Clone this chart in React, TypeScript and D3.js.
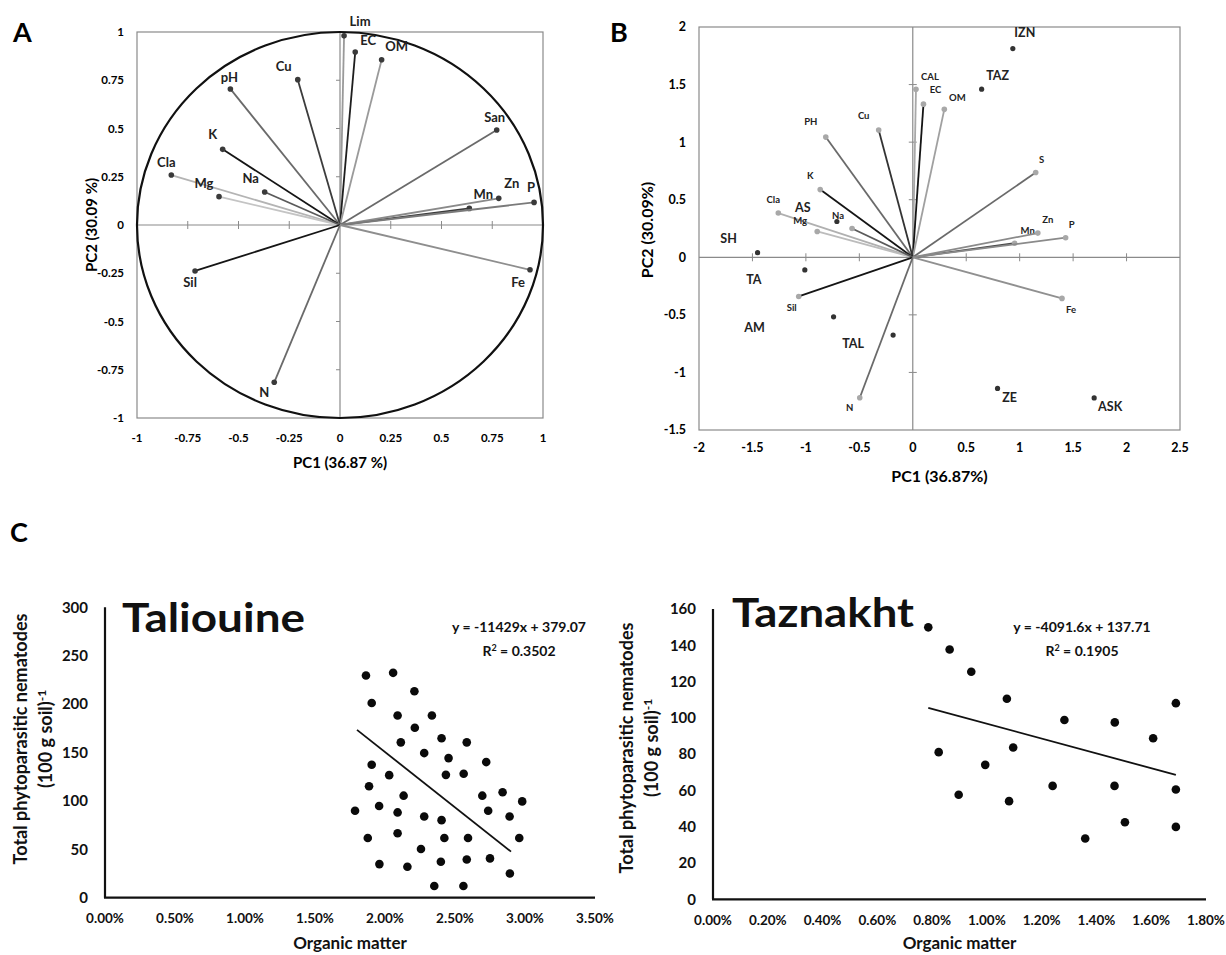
import React from 'react'
import * as d3 from 'd3'

const FONT = 'Lato, "Open Sans", sans-serif'

// ---- panel A : correlation circle (variables) ----
const varsA = ['Lim', 'EC', 'OM', 'Cu', 'pH', 'K', 'Cla', 'Mg', 'Na', 'San', 'Mn', 'Zn', 'P', 'Sil', 'N', 'Fe']
const pc1A = [0.02, 0.075, 0.205, -0.208, -0.54, -0.578, -0.831, -0.596, -0.371, 0.772, 0.637, 0.782, 0.956, -0.714, -0.324, 0.936]
const pc2A = [0.98, 0.896, 0.856, 0.753, 0.705, 0.392, 0.259, 0.147, 0.171, 0.492, 0.086, 0.138, 0.117, -0.238, -0.815, -0.232]
const ticksA = [-1, -0.75, -0.5, -0.25, 0, 0.25, 0.5, 0.75, 1]

// ---- panel B : biplot (variables + sites) ----
const varsB = ['CAL', 'EC', 'OM', 'PH', 'Cu', 'K', 'Cla', 'Mg', 'Na', 'S', 'Mn', 'Zn', 'P', 'Sil', 'N', 'Fe']
const pc1B = [0.03, 0.1, 0.295, -0.814, -0.319, -0.866, -1.258, -0.894, -0.568, 1.15, 0.953, 1.17, 1.43, -1.067, -0.496, 1.396]
const pc2B = [1.46, 1.33, 1.285, 1.044, 1.105, 0.588, 0.384, 0.224, 0.25, 0.736, 0.122, 0.21, 0.17, -0.34, -1.22, -0.357]
const sites = ['IZN', 'TAZ', 'SH', 'TA', 'AM', 'TAL', 'ZE', 'ASK', 'AS']
const siteX = [0.936, 0.644, -1.452, -1.01, -0.741, -0.184, 0.793, 1.697, -0.71]
const siteY = [1.813, 1.46, 0.04, -0.11, -0.517, -0.676, -1.139, -1.221, 0.311]
const ticksBx = [-2, -1.5, -1, -0.5, 0, 0.5, 1, 1.5, 2, 2.5]
const ticksBy = [-1.5, -1, -0.5, 0, 0.5, 1, 1.5, 2]

// ---- panel C : nematodes vs organic matter ----
const talOM = [0.01864, 0.02058, 0.01905, 0.0221, 0.0209, 0.02335, 0.02213, 0.02113, 0.02404, 0.02584, 0.0228, 0.02454, 0.01905, 0.02723, 0.0203, 0.02435, 0.02562, 0.01886, 0.02133, 0.02695, 0.0284, 0.0298, 0.01786, 0.01958, 0.0209, 0.02737, 0.0228, 0.02404, 0.0289, 0.01877, 0.0209, 0.02424, 0.02593, 0.02959, 0.02257, 0.0196, 0.0216, 0.02399, 0.02584, 0.0275, 0.02892, 0.02352, 0.0256]
const talNem = [229.5, 232.3, 201.1, 213.2, 188.3, 188.3, 175.5, 160.5, 164.7, 160.5, 149.4, 144.2, 137.3, 140.1, 126.6, 126.9, 128, 115.1, 105.4, 105.4, 108.9, 99.5, 89.8, 94.7, 88.1, 89.8, 83.9, 80.1, 83.9, 61.7, 66.6, 61.7, 61.7, 61.7, 50.3, 34.7, 31.9, 37.1, 39.5, 40.6, 25, 12.1, 12.1]
const talFit = { slope: -11429, intercept: 379.07, from: 0.018, to: 0.029, r2: '0.3502' }

const tazOM = [0.00786, 0.00864, 0.00943, 0.01073, 0.00824, 0.01096, 0.00994, 0.00897, 0.01081, 0.01283, 0.0124, 0.01467, 0.01466, 0.01504, 0.01359, 0.01607, 0.0169, 0.0169, 0.0169]
const tazNem = [149.9, 137.7, 125.4, 110.5, 81.1, 83.7, 74.1, 57.6, 54.1, 98.8, 62.5, 97.5, 62.5, 42.5, 33.5, 88.8, 108.1, 60.5, 39.9]
const tazFit = { slope: -4091.6, intercept: 137.71, from: 0.00786, to: 0.0169, r2: '0.1905' }

// line shades and label nudges (px) for the loadings
const shadeA: Record<string, string> = {
  Lim: '#9a9a9a', EC: '#1e1e1e', OM: '#9a9a9a', Cu: '#3c3c3c', pH: '#6a6a6a', K: '#151515', Cla: '#b4b4b4', Mg: '#c4c4c4',
  Na: '#5a5a5a', San: '#6a6a6a', Mn: '#3a3a3a', Zn: '#8a8a8a', P: '#7a7a7a', Sil: '#151515', N: '#6a6a6a', Fe: '#8e8e8e'
}
const nudgeA: Record<string, [number, number]> = {
  Lim: [16, -14], EC: [13, -12], OM: [15, -13], Cu: [-14, -13], pH: [-1, -11], K: [-10, -15], Cla: [-5, -13], Mg: [-15, -13],
  Na: [-14, -14], San: [-2, -13], Mn: [14, -14], Zn: [13, -15], P: [-3, -15], Sil: [-5, 12], N: [-10, 10], Fe: [-12, 13]
}
const shadeB: Record<string, string> = {
  CAL: '#a8a8a8', EC: '#151515', OM: '#a0a0a0', PH: '#6a6a6a', Cu: '#333', K: '#151515', Cla: '#b0b0b0', Mg: '#bcbcbc',
  Na: '#5a5a5a', S: '#6a6a6a', Mn: '#4a4a4a', Zn: '#8a8a8a', P: '#8a8a8a', Sil: '#151515', N: '#6a6a6a', Fe: '#909090'
}
const nudgeB: Record<string, [number, number]> = {
  CAL: [14, -13], EC: [12, -14], OM: [13, -12], PH: [-15, -15], Cu: [-15, -14], K: [-10, -14], Cla: [-5, -13], Mg: [-17, -11],
  Na: [-14, -13], S: [6, -13], Mn: [13, -13], Zn: [10, -13], P: [6, -13], Sil: [-7, 11], N: [-10, 10], Fe: [9, 11]
}
const nudgeSite: Record<string, [number, number]> = {
  IZN: [12, -16], TAZ: [16, -14], SH: [-29, -14], TA: [-51, 10], AM: [-79, 11], TAL: [-40, 9], ZE: [12, 9], ASK: [16, 9], AS: [-34, -14]
}

const fmt = (v: number) => String(+v.toFixed(2))

function PanelA() {
  const x = d3.scaleLinear().domain([-1, 1]).range([137, 543])
  const y = d3.scaleLinear().domain([-1, 1]).range([418, 32])
  return (
    <g fontFamily={FONT} fontWeight="bold">
      <text x={13} y={42} fontSize={27}>A</text>
      <rect x={x(-1)} y={y(1)} width={x(1) - x(-1)} height={y(-1) - y(1)} fill="none" stroke="#8a8a8a" strokeWidth={1.2} />
      <line x1={x(-1)} x2={x(1)} y1={y(0)} y2={y(0)} stroke="#8a8a8a" strokeWidth={1.2} />
      <line x1={x(0)} x2={x(0)} y1={y(1)} y2={y(-1)} stroke="#8a8a8a" strokeWidth={1.2} />
      {ticksA.filter(t => Math.abs(t) < 1 && t !== 0).map(t => (
        <g key={t}>
          <line x1={x(t)} x2={x(t)} y1={y(0) - 4} y2={y(0) + 4} stroke="#8a8a8a" />
          <line x1={x(0) - 4} x2={x(0)} y1={y(t)} y2={y(t)} stroke="#8a8a8a" />
        </g>
      ))}
      <ellipse cx={x(0)} cy={y(0)} rx={x(1) - x(0)} ry={y(0) - y(1)} fill="none" stroke="#111" strokeWidth={2.2} />
      {varsA.map((v, i) => (
        <g key={v}>
          <line x1={x(0)} y1={y(0)} x2={x(pc1A[i])} y2={y(pc2A[i])} stroke={shadeA[v]} strokeWidth={1.8} />
          <circle cx={x(pc1A[i])} cy={y(pc2A[i])} r={2.8} fill="#3a3a3a" />
          <text x={x(pc1A[i]) + nudgeA[v][0]} y={y(pc2A[i]) + nudgeA[v][1]} dy="0.35em" textAnchor="middle" fontSize={13} fill="#222">{v}</text>
        </g>
      ))}
      {ticksA.map(t => (
        <text key={'y' + t} x={124} y={y(t)} dy="0.35em" textAnchor="end" fontSize={11.5}>{fmt(t)}</text>
      ))}
      {ticksA.map(t => (
        <text key={'x' + t} x={x(t)} y={438} dy="0.35em" textAnchor="middle" fontSize={11.5}>{fmt(t)}</text>
      ))}
      <text x={x(0)} y={463} dy="0.35em" textAnchor="middle" fontSize={15}>PC1 (36.87 %)</text>
      <text transform={`translate(92,${y(0)}) rotate(-90)`} dy="0.35em" textAnchor="middle" fontSize={15}>PC2 (30.09 %)</text>
    </g>
  )
}

function PanelB() {
  const x = d3.scaleLinear().domain([-2, 2.5]).range([699, 1180])
  const y = d3.scaleLinear().domain([-1.5, 2]).range([430, 27])
  return (
    <g fontFamily={FONT} fontWeight="bold">
      <text x={610} y={42} fontSize={27}>B</text>
      <rect x={x(-2)} y={y(2)} width={x(2.5) - x(-2)} height={y(-1.5) - y(2)} fill="none" stroke="#8a8a8a" strokeWidth={1.2} />
      <line x1={x(-2)} x2={x(2.5)} y1={y(0)} y2={y(0)} stroke="#8a8a8a" strokeWidth={1.2} />
      <line x1={x(0)} x2={x(0)} y1={y(2)} y2={y(-1.5)} stroke="#8a8a8a" strokeWidth={1.2} />
      {ticksBx.filter(t => t !== 0 && t > -2 && t < 2.5).map(t => (
        <line key={'tx' + t} x1={x(t)} x2={x(t)} y1={y(0) - 4} y2={y(0) + 4} stroke="#8a8a8a" />
      ))}
      {ticksBy.filter(t => t !== 0 && t > -1.5 && t < 2).map(t => (
        <line key={'ty' + t} x1={x(0) - 4} x2={x(0) + 4} y1={y(t)} y2={y(t)} stroke="#8a8a8a" />
      ))}
      {varsB.map((v, i) => (
        <g key={v}>
          <line x1={x(0)} y1={y(0)} x2={x(pc1B[i])} y2={y(pc2B[i])} stroke={shadeB[v]} strokeWidth={1.8} />
          <circle cx={x(pc1B[i])} cy={y(pc2B[i])} r={2.8} fill="#a8a8a8" />
          <text x={x(pc1B[i]) + nudgeB[v][0]} y={y(pc2B[i]) + nudgeB[v][1]} dy="0.35em" textAnchor="middle" fontSize={9.5} fill="#222">{v}</text>
        </g>
      ))}
      {sites.map((s, i) => (
        <g key={s}>
          <circle cx={x(siteX[i])} cy={y(siteY[i])} r={2.6} fill="#333" />
          <text x={x(siteX[i]) + nudgeSite[s][0]} y={y(siteY[i]) + nudgeSite[s][1]} dy="0.35em" textAnchor="middle" fontSize={12.5} fill="#222">{s}</text>
        </g>
      ))}
      {ticksBy.map(t => (
        <text key={'y' + t} x={686} y={y(t)} dy="0.35em" textAnchor="end" fontSize={12.5}>{fmt(t)}</text>
      ))}
      {ticksBx.map(t => (
        <text key={'x' + t} x={x(t)} y={448} dy="0.35em" textAnchor="middle" fontSize={12.5}>{fmt(t)}</text>
      ))}
      <text x={(x(-2) + x(2.5)) / 2} y={476} dy="0.35em" textAnchor="middle" fontSize={16}>PC1 (36.87%)</text>
      <text transform={`translate(647,230) rotate(-90)`} dy="0.35em" textAnchor="middle" fontSize={16}>PC2 (30.09%)</text>
    </g>
  )
}

type ScatterProps = {
  title: string; om: number[]; nem: number[]; fit: { slope: number; intercept: number; from: number; to: number; r2: string }
  xMax: number; xStep: number; yMax: number; yStep: number
  xr: [number, number]; yr: [number, number]
  titleX: number; titleY: number; titleW: number; eqX: number; yTitleX: number; yTitleY: number; eqText: string
}

function Scatter(p: ScatterProps) {
  const x = d3.scaleLinear().domain([0, p.xMax]).range(p.xr)
  const y = d3.scaleLinear().domain([0, p.yMax]).range(p.yr)
  const xt = d3.range(0, p.xMax + 1e-9, p.xStep)
  const yt = d3.range(0, p.yMax + 1e-9, p.yStep)
  const pct = d3.format('.2%')
  const trend = d3.line<number>().x(d => x(d)).y(d => y(p.fit.slope * d + p.fit.intercept))
  return (
    <g fontFamily={FONT} fontWeight="bold" fill="#111">
      <line x1={p.xr[0]} x2={p.xr[0]} y1={p.yr[1]} y2={p.yr[0]} stroke="#111" strokeWidth={2.2} />
      <line x1={p.xr[0] - 1} x2={p.xr[1]} y1={p.yr[0]} y2={p.yr[0]} stroke="#111" strokeWidth={2.2} />
      {yt.map(t => (
        <text key={'y' + t} x={p.xr[0] - 17} y={y(t)} dy="0.35em" textAnchor="end" fontSize={15}>{t}</text>
      ))}
      {xt.map(t => (
        <text key={'x' + t} x={x(t)} y={p.yr[0] + 21} dy="0.35em" textAnchor="middle" fontSize={13.5}>{pct(t)}</text>
      ))}
      <path d={trend([p.fit.from, p.fit.to]) || ''} stroke="#111" strokeWidth={1.8} fill="none" />
      {p.om.map((v, i) => (
        <circle key={i} cx={x(v)} cy={y(p.nem[i])} r={4.3} fill="#0a0a0a" />
      ))}
      <text x={p.titleX} y={p.titleY} fontSize={40} textLength={p.titleW} lengthAdjust="spacingAndGlyphs">{p.title}</text>
      <text x={p.eqX} y={632} textAnchor="middle" fontSize={14}>{p.eqText}</text>
      <text x={p.eqX} y={656} textAnchor="middle" fontSize={14}>
        R<tspan dy={-5} fontSize={9}>2</tspan><tspan dy={5}> = {p.fit.r2}</tspan>
      </text>
      <text x={(p.xr[0] + p.xr[1]) / 2} y={943} dy="0.35em" textAnchor="middle" fontSize={17}>Organic matter</text>
      <text transform={`translate(${p.yTitleX},${p.yTitleY}) rotate(-90)`} dy="0.35em" textAnchor="middle" fontSize={18}>Total phytoparasitic nematodes</text>
      <text transform={`translate(${p.yTitleX + 25},${p.yTitleY}) rotate(-90)`} dy="0.35em" textAnchor="middle" fontSize={18}>
        (100 g soil)<tspan dy={-6} fontSize={12}>-1</tspan>
      </text>
    </g>
  )
}

export default function App() {
  return (
    <svg width={1226} height={955} style={{ position: 'absolute', left: 0, top: 0, background: '#fff' }}>
      <PanelA />
      <PanelB />
      <text x={10} y={542} fontFamily={FONT} fontWeight="bold" fontSize={27}>C</text>
      <Scatter title="Taliouine" om={talOM} nem={talNem} fit={talFit} xMax={0.035} xStep={0.005} yMax={300} yStep={50}
        xr={[105, 595]} yr={[897.7, 607.3]} titleX={122} titleY={632} titleW={183} eqX={519} yTitleX={21} yTitleY={739}
        eqText="y = -11429x + 379.07" />
      <Scatter title="Taznakht" om={tazOM} nem={tazNem} fit={tazFit} xMax={0.018} xStep={0.002} yMax={160} yStep={20}
        xr={[713, 1206]} yr={[899.3, 609]} titleX={732} titleY={627} titleW={182} eqX={1082} yTitleX={627} yTitleY={748}
        eqText="y = -4091.6x + 137.71" />
    </svg>
  )
}
